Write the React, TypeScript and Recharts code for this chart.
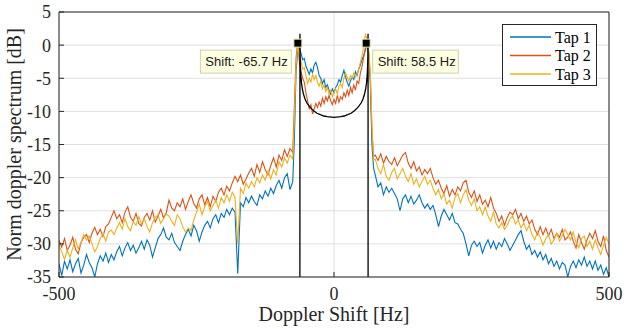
import { ComposedChart, Line, Scatter, XAxis, YAxis, CartesianGrid } from 'recharts';

const range = (start: number, stop: number, step: number) => {
  const out: number[] = [];
  for (let v = start; v <= stop + 1e-9; v += step) out.push(Math.round(v * 100) / 100);
  return out;
};

// frequency grid [Hz]
const freqLeft = range(-500, -75, 5);
const freqCenter = range(-72, 72, 3);
const freqRight = range(75, 500, 5);

// Tap 1 [dB]
const tap1Left = [
  -33.0, -34.8, -32.6, -33.8, -32.4, -34.2, -33.0, -32.2, -34.4, -33.2,
  -31.6, -32.8, -33.6, -35.0, -33.0, -31.8, -32.6, -31.4, -32.8, -31.6,
  -32.4, -31.2, -30.4, -31.8, -30.6, -29.8, -31.0, -30.2, -31.4, -30.6,
  -29.6, -30.8, -29.4, -30.2, -32.0, -30.6, -29.2, -28.6, -27.6, -29.0,
  -29.4, -28.4, -29.8, -30.4, -31.0, -29.6, -28.6, -27.8, -28.8, -27.2,
  -28.0, -29.6, -28.2, -27.2, -26.6, -27.6, -26.2, -25.6, -26.8, -25.4,
  -26.0, -24.8, -25.6, -24.6, -25.2, -34.5, -23.8, -24.4, -23.0, -23.8,
  -22.8, -23.6, -24.2, -22.6, -23.2, -22.0, -22.8, -21.6, -22.4, -21.2,
  -20.4, -21.6, -20.0, -19.4, -21.8, -20.6,
];
const tap1Center = [
  -14.0, -4.0, -0.8, -0.4, -1.2, -2.2, -2.0, -3.2, -3.8, -4.4,
  -3.6, -4.2, -3.0, -2.6, -3.4, -4.6, -5.0, -5.8, -5.2, -6.4,
  -6.0, -6.8, -7.4, -6.6, -7.2, -6.4, -6.0, -5.2, -5.6, -4.6,
  -3.8, -4.8, -5.6, -6.2, -5.4, -4.8, -5.2, -4.0, -4.6, -3.6,
  -3.0, -2.2, -1.6, -0.8, 0.0, -1.0, -5.5, -15.0, -18.6,
];
const tap1Right = [
  -19.6, -21.4, -20.8, -22.6, -21.4, -22.2, -21.6, -22.4, -23.2, -25.0,
  -23.2, -22.6, -23.8, -22.8, -24.0, -23.4, -22.6, -23.8, -24.6, -24.0,
  -24.8, -24.2, -25.6, -27.4, -25.8, -24.8, -25.6, -26.4, -25.4, -26.8,
  -27.0, -27.8, -28.4, -30.0, -31.8, -30.2, -29.6, -30.4, -29.8, -31.4,
  -30.2, -29.4, -30.6, -29.6, -30.8, -29.8, -30.4, -29.2, -30.0, -31.0,
  -30.2, -29.4, -28.6, -28.0, -29.6, -30.8, -30.2, -31.6, -31.0, -32.0,
  -31.2, -32.4, -31.6, -33.0, -32.2, -33.4, -32.6, -33.8, -32.8, -33.2,
  -35.0, -33.4, -32.6, -33.6, -32.4, -33.2, -32.0, -33.4, -32.6, -33.8,
  -32.6, -34.0, -33.2, -34.6, -33.6, -35.0,
];

// Tap 2 [dB]
const tap2Left = [
  -29.5, -30.5, -29.2, -31.0, -30.2, -29.0, -30.8, -31.5, -29.8, -29.0,
  -28.6, -29.8, -28.4, -27.5, -28.6, -27.8, -28.9, -27.4, -27.0, -26.0,
  -25.0, -26.2, -25.6, -26.8, -25.2, -24.4, -26.0, -26.6, -25.4, -26.9,
  -27.3, -26.0, -25.4, -26.4, -25.0, -26.7, -25.8, -24.8, -26.1, -25.3,
  -23.4, -24.6, -25.0, -23.8, -24.4, -23.2, -24.8, -23.6, -22.6, -23.9,
  -24.6, -23.2, -22.6, -24.1, -23.0, -24.4, -22.8, -23.6, -22.2, -21.6,
  -22.6, -21.3, -22.0, -20.8, -19.8, -20.6, -19.6, -21.0, -20.2, -19.3,
  -18.6, -19.8, -18.0, -19.2, -17.6, -18.8, -19.6, -18.2, -17.0, -18.4,
  -16.6, -17.4, -15.8, -16.8, -15.6, -16.2,
];
const tap2Center = [
  -9.0, -2.0, 0.6, -2.5, -4.0, -5.0, -5.6, -7.2, -8.4, -9.6,
  -9.0, -10.4, -9.6, -8.8, -9.4, -8.6, -9.2, -8.0, -8.8, -7.8,
  -8.4, -7.6, -8.4, -9.0, -8.2, -8.8, -7.6, -8.6, -7.8, -8.2,
  -7.2, -7.8, -6.8, -7.6, -6.4, -7.2, -6.0, -6.8, -5.4, -5.8,
  -4.2, -3.2, -1.8, -0.4, 0.4, -1.5, -5.0, -13.0, -16.8,
];
const tap2Right = [
  -16.6, -17.4, -16.4, -17.8, -16.8, -17.6, -18.0, -17.0, -18.2, -17.4,
  -16.6, -16.2, -17.8, -18.6, -17.6, -19.0, -18.4, -19.6, -18.8, -19.4,
  -18.6, -20.0, -21.0, -20.4, -21.6, -22.4, -21.2, -22.8, -21.8, -22.6,
  -21.4, -22.0, -20.8, -20.4, -22.2, -23.0, -22.0, -23.6, -22.6, -24.0,
  -23.4, -24.4, -23.0, -24.6, -25.4, -26.6, -25.8, -27.2, -26.0, -25.2,
  -25.6, -24.8, -26.2, -25.4, -26.6, -25.8, -27.0, -26.4, -27.8, -28.6,
  -27.4, -28.6, -27.6, -28.8, -27.8, -29.2, -28.4, -29.0, -27.8, -29.4,
  -29.0, -28.2, -29.6, -30.6, -28.6, -29.8, -30.8, -29.4, -28.4, -29.2,
  -28.0, -29.6, -30.4, -28.8, -31.0, -32.0,
];

// Tap 3 [dB]
const tap3Left = [
  -30.2, -31.2, -32.4, -31.0, -32.0, -30.6, -29.4, -30.8, -29.8, -28.6,
  -29.4, -28.8, -30.0, -31.2, -30.4, -29.2, -28.4, -29.6, -28.2, -27.9,
  -28.6, -27.6, -26.8, -27.8, -26.2, -27.4, -28.0, -26.6, -27.2, -25.9,
  -27.0, -26.2, -27.4, -28.2, -26.8, -26.0, -25.6, -26.9, -26.2, -25.5,
  -25.8, -26.6, -27.2, -25.6, -26.2, -27.4, -28.2, -27.6, -28.0, -26.4,
  -25.2, -24.0, -25.6, -24.4, -23.6, -25.0, -24.2, -23.4, -24.6, -23.0,
  -23.8, -22.6, -23.6, -22.2, -23.0, -30.0, -21.6, -22.4, -20.8, -21.6,
  -20.6, -21.4, -20.0, -20.8, -19.6, -20.4, -19.0, -20.2, -18.8, -19.6,
  -17.6, -18.4, -17.0, -17.8, -16.6, -17.2,
];
const tap3Center = [
  -11.0, -3.0, 0.0, -1.5, -2.4, -3.6, -3.4, -4.6, -5.8, -5.0,
  -5.6, -4.4, -5.2, -4.6, -5.6, -6.2, -5.4, -6.6, -6.0, -7.0,
  -6.4, -7.4, -6.8, -7.8, -7.2, -6.6, -7.4, -6.2, -5.8, -6.4,
  -5.0, -4.2, -4.8, -5.4, -4.6, -5.0, -4.2, -4.8, -4.4, -3.6,
  -2.6, -1.6, -0.2, 1.6, 1.0, -0.8, -4.0, -12.0, -17.4,
];
const tap3Right = [
  -17.2, -18.6, -19.4, -18.0, -19.8, -20.4, -19.2, -18.6, -20.2, -19.4,
  -18.6, -19.8, -20.6, -19.4, -21.0, -20.2, -21.4, -20.6, -19.8, -21.0,
  -20.4, -21.6, -22.6, -21.8, -23.2, -22.4, -24.0, -23.4, -24.6, -23.0,
  -22.4, -23.8, -22.6, -21.8, -23.4, -24.2, -23.2, -25.0, -24.4, -25.6,
  -24.4, -25.8, -26.6, -25.2, -27.0, -27.6, -26.8, -27.8, -27.2, -26.2,
  -25.8, -27.0, -26.4, -27.6, -26.8, -28.0, -27.2, -28.6, -29.4, -28.2,
  -29.0, -30.2, -29.2, -28.6, -30.0, -29.4, -28.4, -29.6, -28.8, -27.8,
  -28.6, -29.4, -28.2, -29.8, -30.6, -29.2, -28.8, -30.4, -29.6, -30.8,
  -29.4, -30.6, -31.6, -30.2, -29.0, -30.0,
];

// theoretical Jakes spectrum
const jakesFreqs = [
  -62, -61.9, -61.69, -61.38, -60.76, -60.14, -58.9, -57.66, -55.8, -52.7, -49.6, -43.4, -37.2, -31, -24.8, -18.6, -12.4,
  0, 12.4, 18.6, 24.8, 31, 37.2, 43.4, 49.6, 52.7, 55.8, 57.66, 58.9, 60.14, 60.76, 61.38, 61.69, 61.9, 62,
];
const jakesDb = [
  -35, 1.7, -0.9, -2.4, -3.9, -4.76, -5.85, -6.55, -7.3, -8.12, -8.7, -9.4, -9.9, -10.28, -10.5, -10.7, -10.8,
  -10.9, -10.8, -10.7, -10.5, -10.28, -9.9, -9.4, -8.7, -8.12, -7.3, -6.55, -5.85, -4.76, -3.9, -2.4, -0.9, 1.7, -35,
];

// data tips
const tipFreqs = [-65.7, 58.5];
const tipDb = [0.3, 0.3];

const xTicks = [-500, 0, 500];
const yTicks = [-35, -30, -25, -20, -15, -10, -5, 0, 5];

const series = [
  { key: 'tap1', name: 'Tap 1', color: '#0072BD' },
  { key: 'tap2', name: 'Tap 2', color: '#D95319' },
  { key: 'tap3', name: 'Tap 3', color: '#EDB120' },
];

const freqs = [...freqLeft, ...freqCenter, ...freqRight];
const tap1 = [...tap1Left, ...tap1Center, ...tap1Right];
const tap2 = [...tap2Left, ...tap2Center, ...tap2Right];
const tap3 = [...tap3Left, ...tap3Center, ...tap3Right];

const rows = freqs.map((f, i) => ({ f, tap1: tap1[i], tap2: tap2[i], tap3: tap3[i] }));
const jakes = jakesFreqs.map((f, i) => ({ f, jakes: jakesDb[i] }));
const tips = tipFreqs.map((f, i) => ({ f, peak: tipDb[i] }));

const SERIF = '"Liberation Serif", "Times New Roman", serif';
const AX = '#262626';

const DataTip = (props: any) => {
  const { cx, cy, payload } = props;
  const text = `Shift: ${payload.f} Hz`;
  const w = 10 + text.length * 5.4;
  const h = 23;
  const bx = payload.f < 0 ? cx - 6.5 - w : cx + 6.5;
  const by = cy + 7;
  return (
    <g>
      <rect x={bx} y={by} width={w} height={h} fill="#ffffe1" stroke="#cfcfb4" />
      <text x={bx + 5} y={by + h / 2} dominantBaseline="central" fontFamily='"Liberation Sans", Arial, sans-serif' fontSize={13} fill="#1a1a1a">
        {text}
      </text>
      <rect x={cx - 4} y={cy - 4} width={8} height={8} fill="#000" stroke="#f2eab8" strokeWidth={1} />
    </g>
  );
};

const xLabel = (props: any) => {
  const vb = props.viewBox ?? { x: 59, y: 277, width: 550, height: 40 };
  return (
    <text x={vb.x + vb.width / 2} y={vb.y + 44} textAnchor="middle" fontFamily={SERIF} fontSize={20} fill={AX}>
      Doppler Shift [Hz]
    </text>
  );
};

const yLabel = (props: any) => {
  const vb = props.viewBox ?? { x: 10, y: 12, width: 49, height: 265 };
  const cy = vb.y + vb.height / 2;
  return (
    <text x={21} y={cy} transform={`rotate(-90 21 ${cy})`} textAnchor="middle" fontFamily={SERIF} fontSize={20} fill={AX}>
      Norm doppler spectrum [dB]
    </text>
  );
};

export default function App() {
  const tick = { fill: AX, fontSize: 18, fontFamily: SERIF };
  return (
    <div style={{ position: 'absolute', left: 0, top: 0, width: 625, height: 329, background: '#fff' }}>
      <ComposedChart width={625} height={329} data={rows} margin={{ top: 11, right: 15, bottom: 12, left: 10 }}>
        <CartesianGrid stroke="#dfdfdf" />
        <XAxis
          dataKey="f"
          type="number"
          domain={[-500, 500]}
          ticks={xTicks}
          interval={0}
          allowDataOverflow
          height={40}
          tickSize={-5}
          tickMargin={15}
          tick={tick}
          stroke={AX}
          label={xLabel}
        />
        <XAxis
          xAxisId="top"
          orientation="top"
          type="number"
          domain={[-500, 500]}
          ticks={xTicks}
          interval={0}
          height={1}
          tickSize={-5}
          tick={false}
          stroke={AX}
        />
        <YAxis
          type="number"
          domain={[-35, 5]}
          ticks={yTicks}
          interval={0}
          allowDataOverflow
          width={49}
          tickSize={-5}
          tickMargin={13}
          tick={tick}
          stroke={AX}
          label={yLabel}
        />
        <YAxis
          yAxisId="right"
          orientation="right"
          type="number"
          domain={[-35, 5]}
          ticks={yTicks}
          interval={0}
          width={1}
          tickSize={-5}
          tick={false}
          stroke={AX}
        />
        {series.map((s) => (
          <Line
            key={s.key}
            dataKey={s.key}
            name={s.name}
            stroke={s.color}
            strokeWidth={1.1}
            dot={false}
            type="linear"
            isAnimationActive={false}
          />
        ))}
        <Line data={jakes} dataKey="jakes" stroke="#000" strokeWidth={1.3} dot={false} type="linear" isAnimationActive={false} />
        <Scatter data={tips} dataKey="peak" shape={DataTip} isAnimationActive={false} />
      </ComposedChart>
      <div
        style={{
          position: 'absolute',
          left: 502,
          top: 24,
          width: 95,
          height: 62,
          boxSizing: 'border-box',
          border: `1px solid ${AX}`,
          background: '#fff',
        }}
      >
        <svg width={93} height={60} style={{ display: 'block' }}>
          {series.map((s, i) => (
            <g key={s.key}>
              <line x1={7} x2={48} y1={12 + i * 18.5} y2={12 + i * 18.5} stroke={s.color} strokeWidth={1.3} />
              <text x={52} y={12 + i * 18.5} dominantBaseline="central" fontFamily={SERIF} fontSize={16} fill="#000">
                {s.name}
              </text>
            </g>
          ))}
        </svg>
      </div>
    </div>
  );
}
